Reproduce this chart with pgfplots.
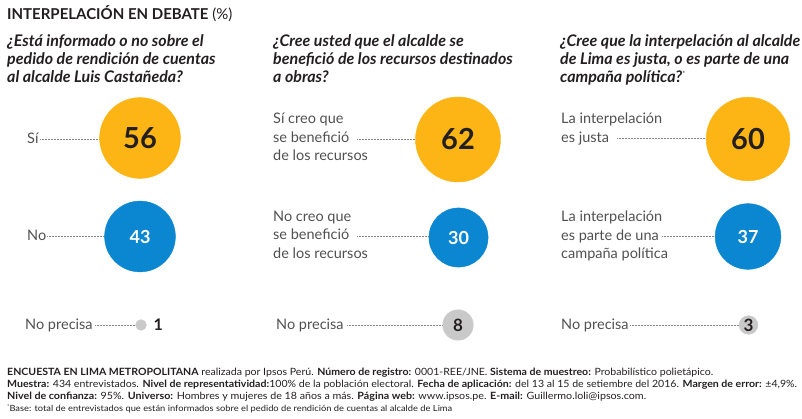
\documentclass[border=0pt]{standalone}
\usepackage{pgfplots}
\pgfplotsset{compat=1.18}
\usepackage{graphicx}
\usepackage{fontspec}
\setmainfont{Lato}
\definecolor{amar}{HTML}{FDB515}
\definecolor{azul}{HTML}{0B86D1}
\definecolor{gris}{HTML}{C9C9C9}
\definecolor{txt}{HTML}{231F20}
\definecolor{lbl}{HTML}{505050}

% bubble radius (pt) = 5.4 * sqrt(value): area proportional to the percentage
\newcommand{\lab}[3]{\node[anchor=base west, inner sep=0pt, font=\fontsize{14.5}{14.5}\selectfont, text=lbl] at (axis cs:#1,#2) {#3};}
\newcommand{\lead}[3]{\draw[lbl!70, line width=0.5pt, dash pattern=on 0.5pt off 1pt] (axis cs:#1,#3) -- (axis cs:#2,#3);}
\newcommand{\qq}[3]{\node[anchor=base west, inner sep=0pt, font=\bfseries\itshape\fontsize{16}{16}\selectfont, text=txt] at (axis cs:#1,#2) {#3};}
\newcommand{\foot}[4]{\node[anchor=base west, inner sep=0pt, text=txt] at (axis cs:7,#1) {\resizebox{#2pt}{\height}{\fontsize{#3}{#3}\selectfont #4}};}

\pgfplotsset{
  bub/.style 2 args={only marks, mark=*, mark size=#2, color=#1,
     mark options={draw=none, fill=#1},
     point meta=explicit symbolic, nodes near coords},
  big/.style={nodes near coords style={anchor=center, font=\bfseries\fontsize{29}{29}\selectfont, text=txt}},
  mid/.style={nodes near coords style={anchor=center, font=\bfseries\fontsize{18}{18}\selectfont, text=white}},
  sml/.style={nodes near coords style={anchor=center, font=\bfseries\fontsize{17}{17}\selectfont, text=txt}},
}

\begin{document}
\begin{tikzpicture}
\begin{axis}[scale only axis, width=802pt, height=419pt,
  xmin=0, xmax=802, ymin=0, ymax=419, y dir=reverse,
  hide axis, clip=false]

% Sí / Sí creo / es justa
\addplot[bub={amar}{40.41}, big] coordinates {(140,138) [56]};
\addplot[bub={amar}{42.52}, big] coordinates {(458,139.5) [62]};
\addplot[bub={amar}{41.83}, big] coordinates {(748,139) [60]};
% No / No creo / campaña política
\addplot[bub={azul}{35.41}, mid] coordinates {(140,236.5) [43]};
\addplot[bub={azul}{29.58}, mid] coordinates {(458.5,237.5) [30]};
\addplot[bub={azul}{32.85}, mid] coordinates {(748,236.5) [37]};
% No precisa
\addplot[bub={gris}{5.4}, nodes near coords style={anchor=west, xshift=9pt, font=\bfseries\fontsize{16}{16}\selectfont, text=txt}] coordinates {(141,325) [1]};
\addplot[bub={gris}{15.27}, sml] coordinates {(458,325) [8]};
\addplot[bub={gris}{9.35}, sml] coordinates {(748.5,325) [3]};

% title
\node[anchor=base west, inner sep=0pt, font=\fontsize{15}{15}\selectfont, text=txt] at (axis cs:7,19.5) {\textbf{INTERPELACIÓN EN DEBATE} (\%)};

% questions
\qq{7}{47}{¿Está informado o no sobre el}
\qq{7}{65}{pedido de rendición de cuentas}
\qq{7}{83}{al alcalde Luis Castañeda?}
\qq{273}{47}{¿Cree usted que el alcalde se}
\qq{273}{65}{benefició de los recursos destinados}
\qq{273}{83}{a obras?}
\qq{560}{47}{¿Cree que la interpelación al alcalde}
\qq{560}{65}{de Lima es justa, o es parte de una}
\qq{560}{83}{campaña política?\raisebox{6pt}{\mdseries\upshape\fontsize{7}{7}\selectfont *}}

% panel 1 labels
\lab{27}{144}{Sí}
\lead{40}{100}{139.5}
\lab{27}{241}{No}
\lead{47}{105}{236.5}
\lab{25}{329.5}{No precisa}
\lead{95}{135.5}{325}

% panel 2 labels
\lab{273}{124}{Sí creo que}
\lab{273}{142.5}{se benefició}
\lab{273}{161}{de los recursos}
\lead{357}{416}{139}
\lab{273}{221.5}{No creo que}
\lab{273}{240}{se benefició}
\lab{273}{258.5}{de los recursos}
\lead{357}{429}{236.5}
\lab{276}{329.5}{No precisa}
\lead{347}{443}{325}

% panel 3 labels
\lab{561}{124}{La interpelación}
\lab{561}{143}{es justa}
\lead{617}{706}{138.5}
\lab{561}{221.5}{La interpelación}
\lab{561}{240.5}{es parte de una}
\lab{561}{258.5}{campaña política}
\lead{662}{715}{236.5}
\lab{561}{329.5}{No precisa}
\lead{630}{739}{325}

% footer
\foot{375}{706}{10}{\textbf{ENCUESTA EN LIMA METROPOLITANA} realizada por Ipsos Perú. \textbf{Número de registro:} 0001-REE/JNE. \textbf{Sistema de muestreo:} Probabilístico polietápico.}
\foot{387.5}{790}{10}{\textbf{Muestra:} 434 entrevistados. \textbf{Nivel de representatividad:}100\% de la población electoral. \textbf{Fecha de aplicación:} del 13 al 15 de setiembre del 2016. \textbf{Margen de error:} ±4,9\%.}
\foot{399.5}{639}{10}{\textbf{Nivel de confianza:} 95\%. \textbf{Universo:} Hombres y mujeres de 18 años a más. \textbf{Página web:} www.ipsos.pe. \textbf{E-mail:} Guillermo.loli@ipsos.com.}
\foot{411}{445}{8.5}{\raisebox{3pt}{\fontsize{5}{5}\selectfont *}Base: total de entrevistados que están informados sobre el pedido de rendición de cuentas al alcalde de Lima}
\end{axis}
\pgfresetboundingbox
\useasboundingbox (current axis.south west) rectangle (current axis.north east);
\end{tikzpicture}
\end{document}
